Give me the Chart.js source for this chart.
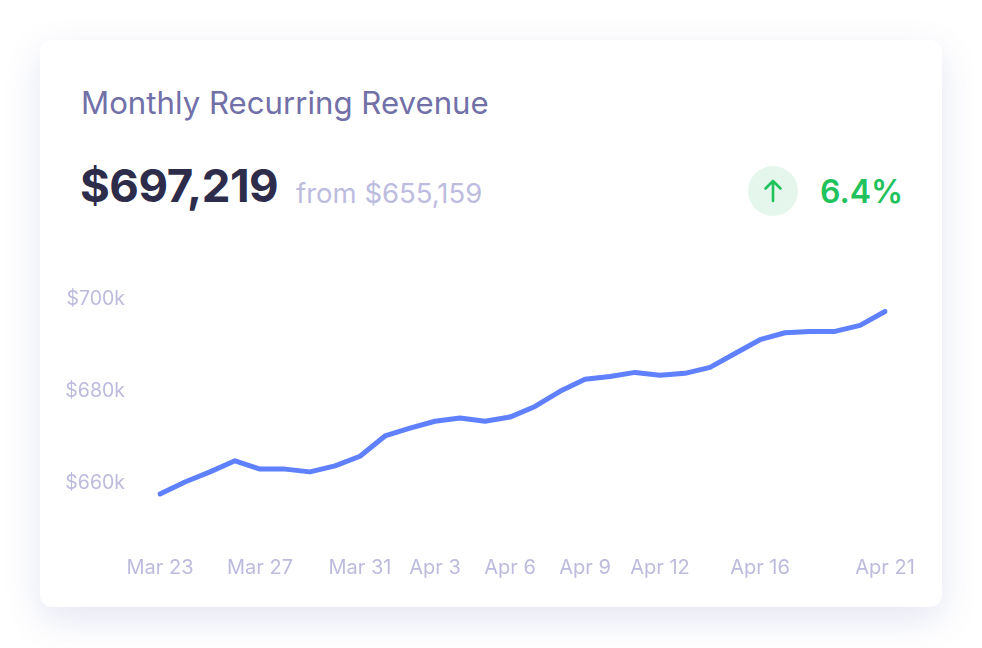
<!DOCTYPE html>
<html>
<head>
<meta charset="utf-8">
<script src="https://cdn.jsdelivr.net/npm/chart.js@4.4.1/dist/chart.umd.min.js"></script>
<style>
  html, body { margin: 0; padding: 0; background: #fff; }
  body { width: 982px; height: 648px; position: relative; overflow: hidden; font-family: Inter, "Noto Sans", sans-serif; }
  .card {
    position: absolute; left: 40px; top: 40px; width: 902px; height: 567px;
    background: #fff; border-radius: 12px;
    box-shadow: 0 12px 36px rgba(90, 100, 175, 0.16);
  }
  .title { position: absolute; left: 41px; top: 44px; font-size: 31.2px; color: #7170a8; font-weight: 400; }
  .big { position: absolute; left: 40px; top: 118px; font-size: 45.6px; font-weight: 700; color: #2e2c4b; letter-spacing: -0.5px; }
  .from { position: absolute; left: 256px; top: 136px; font-size: 27.5px; color: #bdbcdf; }
  .badge { position: absolute; left: 708px; top: 126px; width: 50px; height: 50px; border-radius: 50%; background: #e5f7ec; }
  .badge svg { position: absolute; left: 0; top: 0; }
  .pct { position: absolute; left: 780px; top: 132px; font-size: 32px; font-weight: 600; color: #1fc25b; }
  .chartbox { position: absolute; left: 0; top: 212px; width: 902px; height: 348px; }
</style>
</head>
<body>
<div class="card">
  <div class="title">Monthly Recurring Revenue</div>
  <div class="big">$697,219</div>
  <div class="from">from $655,159</div>
  <div class="badge">
    <svg width="50" height="50" viewBox="0 0 50 50">
      <path d="M25 35 L25 15 M17.5 22.5 L25 15 L32.5 22.5" stroke="#1fc25b" stroke-width="2.6" fill="none" stroke-linecap="round" stroke-linejoin="round"/>
    </svg>
  </div>
  <div class="pct">6.4%</div>
  <div class="chartbox"><canvas id="mrr"></canvas></div>
</div>
<script>
// daily MRR, Mar 23 - Apr 21
const days = ['Mar 23','Mar 24','Mar 25','Mar 26','Mar 27','Mar 28','Mar 29','Mar 30','Mar 31',
  'Apr 1','Apr 2','Apr 3','Apr 4','Apr 5','Apr 6','Apr 7','Apr 8','Apr 9','Apr 10','Apr 11',
  'Apr 12','Apr 13','Apr 14','Apr 15','Apr 16','Apr 17','Apr 18','Apr 19','Apr 20','Apr 21'];
const mrr = [657600, 660200, 662400, 664800, 663000, 663000, 662400, 663700, 665800,
  670200, 671900, 673400, 674100, 673400, 674300, 676600, 679900, 682500, 683100, 684000,
  683400, 683800, 685100, 688100, 691100, 692600, 692900, 692900, 694200, 697219];
const xTicks = ['Mar 23','Mar 27','Mar 31','Apr 3','Apr 6','Apr 9','Apr 12','Apr 16','Apr 21'];
const yTicks = [660000, 680000, 700000];

window.onload = function() {
  new Chart(document.getElementById('mrr'), {
    type: 'line',
    data: {
      labels: days,
      datasets: [{
        data: mrr,
        borderColor: '#5f80ff',
        borderWidth: 5,
        tension: 0,
        pointRadius: 0,
        borderCapStyle: 'round',
        borderJoinStyle: 'round',
        fill: false
      }]
    },
    options: {
      responsive: true,
      maintainAspectRatio: false,
      animation: false,
      layout: { padding: { left: 0, right: 57, top: 28, bottom: 0 } },
      plugins: { legend: { display: false }, tooltip: { enabled: false } },
      scales: {
        x: {
          grid: { display: false, drawTicks: false },
          border: { display: false },
          afterFit: function(s) { s.height = 71; },
          ticks: {
            autoSkip: false,
            maxRotation: 0,
            padding: 27,
            color: '#bcbbdd',
            font: { family: 'Inter', size: 20 },
            callback: function(v) {
              const l = days[v];
              return xTicks.includes(l) ? l : '';
            }
          }
        },
        y: {
          min: 650000,
          max: 700000,
          grid: { display: false, drawTicks: false },
          border: { display: false },
          afterFit: function(s) { s.width = 120; },
          afterBuildTicks: function(s) { s.ticks = yTicks.map(v => ({ value: v })); },
          ticks: {
            padding: 35,
            color: '#bcbbdd',
            font: { family: 'Inter', size: 19.5 },
            callback: function(v) { return '$' + (v / 1000) + 'k'; }
          }
        }
      }
    }
  });
};
</script>
</body>
</html>
